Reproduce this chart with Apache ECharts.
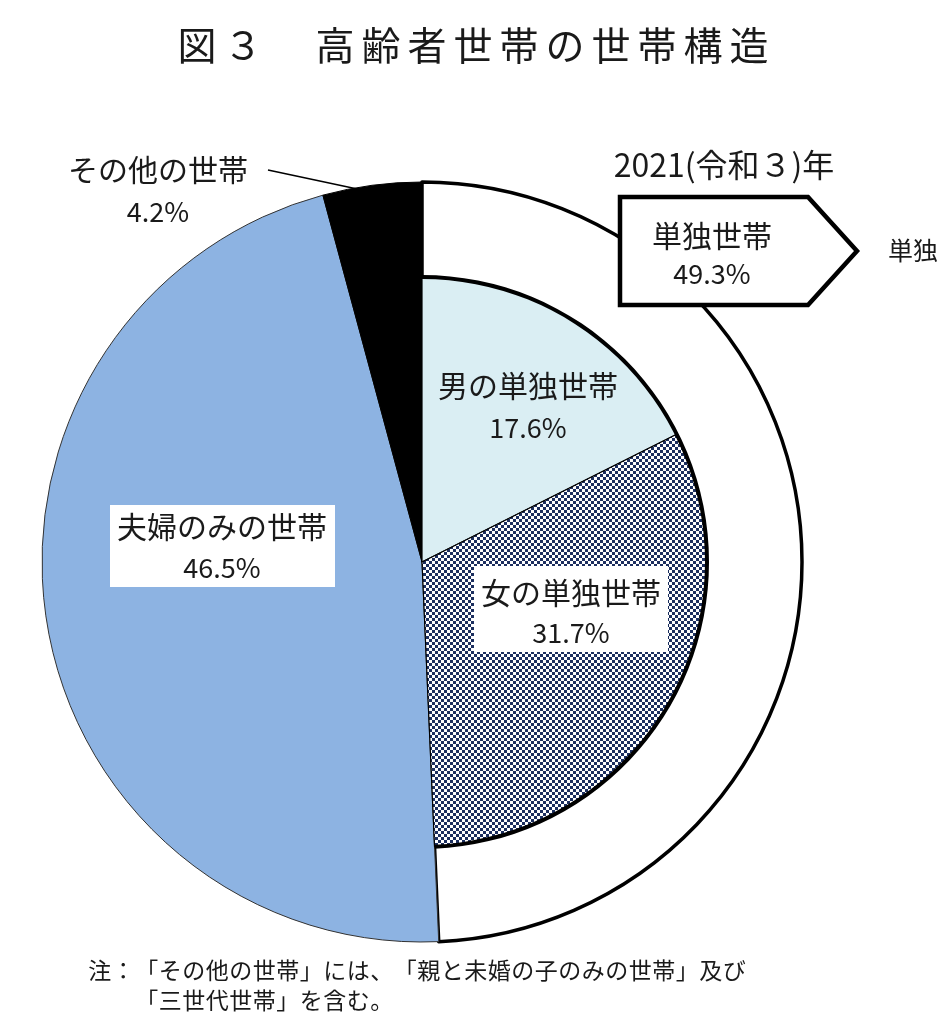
<!DOCTYPE html>
<html><head><meta charset="utf-8">
<script src="https://cdn.jsdelivr.net/npm/echarts@6/dist/echarts.min.js"></script>
<style>html,body{margin:0;padding:0;background:#fff}#c{width:943px;height:1023px}</style>
</head><body><div id="c"></div>
<script>
const titleText = '図３　高齢者世帯の世帯構造';
const yearText = '2021(令和３)年';
const outerNames = ['単独世帯', '夫婦のみの世帯', 'その他の世帯'];
const outerValues = [49.3, 46.5, 4.2];
const innerNames = ['男の単独世帯', '女の単独世帯'];
const innerValues = [17.6, 31.7];
const noteLines = ['注：「その他の世帯」には、「親と未婚の子のみの世帯」及び', '「三世代世帯」を含む。'];

const FONT = '"Noto Sans CJK JP", "Noto Sans", sans-serif';
const CX = 422, CY = 562, R = 380, RI = 285;

// checker pattern for 女の単独世帯
const pc = document.createElement('canvas');
pc.width = 6; pc.height = 6;
const g = pc.getContext('2d');
g.fillStyle = '#ffffff'; g.fillRect(0, 0, 6, 6);
g.fillStyle = '#1c2f5f'; g.fillRect(0, 0, 3, 3); g.fillRect(3, 3, 3, 3);

const singleTotal = innerValues[0] + innerValues[1];
const total = outerValues.reduce((a, b) => a + b, 0);

const outerStyles = [
  {color: '#ffffff', borderColor: '#000', borderWidth: 3.5},
  {color: '#8db3e2', borderColor: '#333', borderWidth: 1},
  {color: '#000000', borderColor: '#000', borderWidth: 1}
];
const innerStyles = [
  {color: '#daeef3', borderColor: '#000', borderWidth: 1.2},
  {color: {image: pc, repeat: 'repeat'}, borderColor: '#000', borderWidth: 1.2}
];

const txt = (x, y, s, size, align) => ({
  type: 'text', x: x, y: y, z: 100,
  style: {text: s, font: `${size}px ${FONT}`, fill: '#1a1a1a', align: align || 'center', verticalAlign: 'middle'}
});

const graphics = [];
// title, one char per slot
for (let i = 0; i < titleText.length; i++) {
  graphics.push(txt(197 + i * 46, 45, titleText[i], 39));
}
graphics.push(txt(724, 165, yearText, 32));
// その他 label + leader
graphics.push(txt(158, 170, outerNames[2], 30));
graphics.push(txt(158, 212, outerValues[2].toFixed(1) + '%', 27));
graphics.push({type: 'line', z: 100, shape: {x1: 268, y1: 170, x2: 362, y2: 190}, style: {stroke: '#000', lineWidth: 1.5}});
// 単独 pentagon
graphics.push({type: 'polygon', z: 90, shape: {points: [[620, 197], [808, 197], [857, 251], [808, 305], [620, 305]]},
  style: {fill: '#fff', stroke: '#000', lineWidth: 4.5}});
graphics.push(txt(712, 236, outerNames[0], 30));
graphics.push(txt(712, 274, outerValues[0].toFixed(1) + '%', 27));
graphics.push(txt(888, 250, '単独', 25, 'left'));
// 男
graphics.push(txt(528, 386, innerNames[0], 30));
graphics.push(txt(528, 428, innerValues[0].toFixed(1) + '%', 27));
// 女
graphics.push({type: 'rect', z: 95, shape: {x: 474, y: 566, width: 194, height: 86}, style: {fill: '#fff'}});
graphics.push(txt(571, 593, innerNames[1], 30));
graphics.push(txt(571, 633, innerValues[1].toFixed(1) + '%', 27));
// 夫婦
graphics.push({type: 'rect', z: 95, shape: {x: 110, y: 505, width: 225, height: 82}, style: {fill: '#fff'}});
graphics.push(txt(222, 527, outerNames[1], 30));
graphics.push(txt(222, 568, outerValues[1].toFixed(1) + '%', 27));
// note, one char per full-width cell
const STEP = 23.5;
[...noteLines[0]].forEach((ch, i) => graphics.push(txt(88 + STEP / 2 + i * STEP, 970, ch, 23)));
[...noteLines[1]].forEach((ch, i) => graphics.push(txt(88 + STEP / 2 + (i + 2) * STEP, 1000, ch, 23)));

const chart = echarts.init(document.getElementById('c'), null, {renderer: 'canvas'});
chart.setOption({
  backgroundColor: '#ffffff',
  animation: false,
  series: [
    {
      type: 'pie', center: [CX, CY], radius: [0, R], startAngle: 90, clockwise: true,
      silent: true, label: {show: false}, labelLine: {show: false},
      data: outerNames.map((n, i) => ({name: n, value: outerValues[i], itemStyle: outerStyles[i]}))
    },
    {
      type: 'pie', center: [CX, CY], radius: [0, RI], startAngle: 90, clockwise: true,
      silent: true, label: {show: false}, labelLine: {show: false},
      data: innerNames.map((n, i) => ({name: n, value: innerValues[i], itemStyle: innerStyles[i]}))
        .concat([{name: 'rest', value: total - singleTotal, itemStyle: {color: 'rgba(0,0,0,0)', borderWidth: 0}}])
    },
    {
      type: 'pie', center: [CX, CY], radius: [RI - 2, RI + 2], startAngle: 90, clockwise: true,
      silent: true, label: {show: false}, labelLine: {show: false},
      data: [{name: 'arc', value: singleTotal, itemStyle: {color: '#000'}},
             {name: 'rest', value: total - singleTotal, itemStyle: {color: 'rgba(0,0,0,0)'}}]
    }
  ],
  graphic: graphics
});
</script></body></html>
